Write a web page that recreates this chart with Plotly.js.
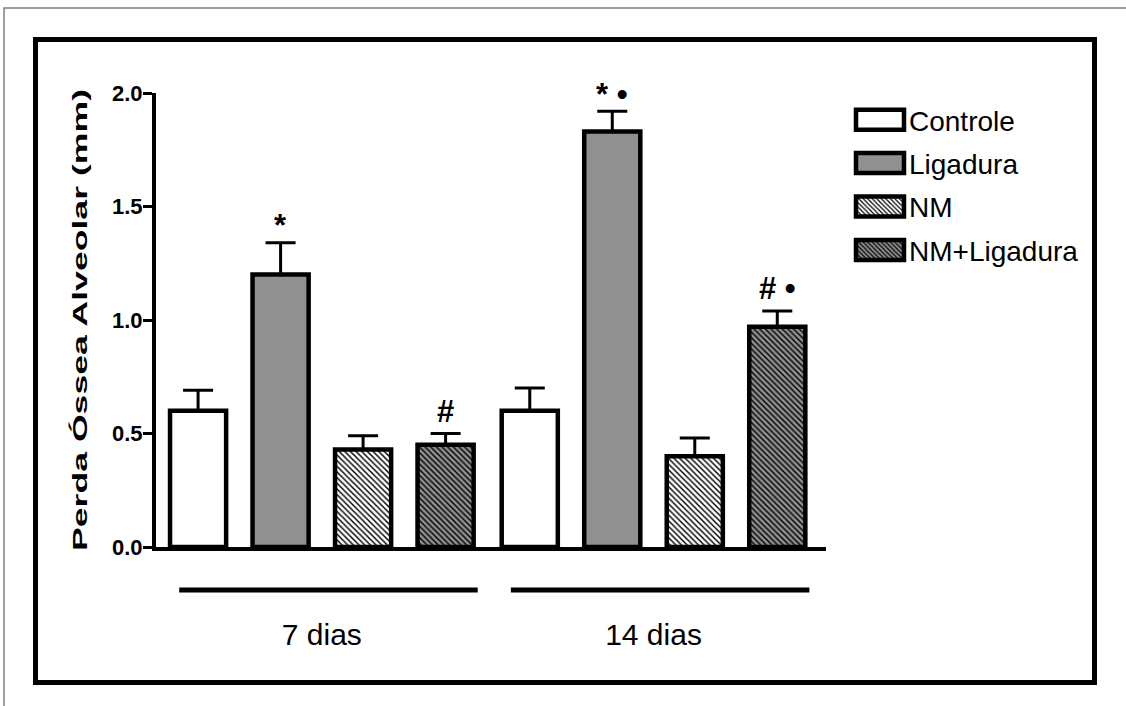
<!DOCTYPE html>
<html>
<head>
<meta charset="utf-8">
<script src="https://cdn.plot.ly/plotly-3.0.1.min.js"></script>
<style>
  html, body { margin: 0; padding: 0; background: #ffffff; }
  #chart { width: 1126px; height: 706px; }
</style>
</head>
<body>
<div id="chart"></div>
<script>
// ---- data ----
const categories = ['7 dias', '14 dias'];
const seriesNames = ['Controle', 'Ligadura', 'NM', 'NM+Ligadura'];

const controle       = [0.60, 0.60];
const controleErr    = [0.09, 0.10];
const ligadura       = [1.20, 1.83];
const ligaduraErr    = [0.14, 0.09];
const nm             = [0.43, 0.40];
const nmErr          = [0.06, 0.08];
const nmLigadura     = [0.45, 0.97];
const nmLigaduraErr  = [0.05, 0.07];

const sigControle    = ['', ''];
const sigLigadura    = ['*', '* \u2022'];
const sigNM          = ['', ''];
const sigNMLigadura  = ['#', '# \u2022'];

const yTickVals = [0.0, 0.5, 1.0, 1.5, 2.0];
const yTitle = 'Perda \u00d3ssea Alveolar (mm)';

// ---- styling ----
const FONT = 'Arial, "Liberation Sans", sans-serif';
const GRAY = '#909090';
const BARGAP = 0.005;
const BARGROUPGAP = 0.32;

const M = {l: 156, r: 300, t: 93, b: 159};
const W = 1126, H = 706;
const PW = W - M.l - M.r, PH = H - M.t - M.b;
const px = x => (x - M.l) / PW;
const py = y => (H - M.b - y) / PH;

const values = [controle, ligadura, nm, nmLigadura];
const errs = [controleErr, ligaduraErr, nmErr, nmLigaduraErr];
const sigs = [sigControle, sigLigadura, sigNM, sigNMLigadura];
const styles = [
  {color: '#ffffff'},
  {color: GRAY},
  {color: '#ffffff', pattern: {shape: '\\', bgcolor: '#ffffff', fgcolor: '#000000', size: 4, solidity: 0.36}},
  {color: GRAY, pattern: {shape: '\\', bgcolor: GRAY, fgcolor: '#000000', size: 4, solidity: 0.36}}
];

const traces = seriesNames.map((name, si) => {
  const marker = {color: styles[si].color, line: {color: '#000000', width: 4.5}};
  if (styles[si].pattern) marker.pattern = styles[si].pattern;
  return {
    type: 'bar',
    name: name,
    legendgroup: name,
    x: categories,
    y: values[si],
    marker: marker,
    cliponaxis: false,
    error_y: {
      type: 'data', symmetric: false,
      array: errs[si], arrayminus: values[si].map(() => 0),
      color: '#000000', thickness: 3, width: 15
    },
    hoverinfo: 'skip'
  };
});

// significance annotations (vertical offset depends on the glyph)
const glyphShift = {'*': 17, '#': 22};
const slot = (1 - BARGAP) / seriesNames.length;
const annotations = [];
seriesNames.forEach((name, si) => {
  categories.forEach((c, gi) => {
    const t = sigs[si][gi];
    if (!t) return;
    annotations.push({
      xref: 'x', yref: 'y',
      x: gi + (si - (seriesNames.length - 1) / 2) * slot,
      y: values[si][gi] + errs[si][gi],
      text: t, showarrow: false, yanchor: 'middle',
      yshift: glyphShift[t.charAt(0)] || 20,
      font: {family: FONT, size: 31, color: '#000000', weight: 'bold'}
    });
  });
});

// group underlines
const shapes = [];
categories.forEach((c, gi) => {
  shapes.push({
    type: 'line', xref: 'x', yref: 'paper',
    x0: gi - 0.43, x1: gi + 0.47, y0: py(590), y1: py(590),
    line: {color: '#000000', width: 5}
  });
});
// figure frames
shapes.push({type: 'rect', xref: 'paper', yref: 'paper', x0: px(4), x1: px(1140), y0: py(8), y1: py(720),
  line: {color: '#808080', width: 1.5}, layer: 'below'});
shapes.push({type: 'rect', xref: 'paper', yref: 'paper', x0: px(35.5), x1: px(1094.5), y0: py(39.5), y1: py(682.5),
  line: {color: '#000000', width: 5}, layer: 'below'});

const layout = {
  width: W, height: H,
  margin: M,
  paper_bgcolor: '#ffffff', plot_bgcolor: '#ffffff',
  font: {family: FONT, color: '#000000'},
  barmode: 'group', bargap: BARGAP, bargroupgap: BARGROUPGAP,
  showlegend: true,
  legend: {
    x: px(839), y: py(95), xanchor: 'left', yanchor: 'top',
    font: {family: FONT, size: 28, color: '#000000'},
    bgcolor: 'rgba(0,0,0,0)', borderwidth: 0,
    itemwidth: 60, tracegroupgap: 4, traceorder: 'grouped',
    itemclick: false, itemdoubleclick: false
  },
  xaxis: {
    type: 'category', range: [-0.5, 1.52],
    showline: true, linecolor: '#000000', linewidth: 4,
    ticks: '', showgrid: false, zeroline: false,
    ticklabelstandoff: 58,
    tickfont: {family: FONT, size: 30, color: '#000000'}
  },
  yaxis: {
    range: [0, 2.0], autorange: false,
    tickvals: yTickVals, tickformat: '.1f',
    showline: true, linecolor: '#000000', linewidth: 4,
    ticks: 'outside', ticklen: 9, tickwidth: 3, tickcolor: '#000000',
    ticklabelstandoff: -4,
    showgrid: false, zeroline: false,
    tickfont: {family: FONT, size: 22, color: '#000000', weight: 'bold'},
    title: {text: yTitle, standoff: 20, font: {family: FONT, size: 21, color: '#000000', weight: 'bold'}}
  },
  annotations: annotations,
  shapes: shapes
};

Plotly.newPlot('chart', traces, layout, {staticPlot: true, displayModeBar: false}).then(gd => {
  // enlarge legend swatches to the wide boxed style of the reference
  gd.querySelectorAll('.legend g.traces').forEach(g => {
    const txt = g.querySelector('text.legendtext');
    const tx = txt ? parseFloat(txt.getAttribute('x')) || 40 : 40;
    g.querySelectorAll('.legendpoints path').forEach(p => {
      const d = p.getAttribute('d');
      if (!d) return;
      p.setAttribute('d', 'M24,10H-24V-10H24Z');
      p.setAttribute('transform', 'translate(' + (tx - 29) + ',0)');
      p.style.strokeWidth = '4.5px';
    });
  });
  // the reference's axis title is drawn vertically stretched along its length
  const yt = gd.querySelector('.g-ytitle text');
  if (yt) {
    yt.setAttribute('textLength', '462');
    yt.setAttribute('lengthAdjust', 'spacingAndGlyphs');
  }
});
</script>
</body>
</html>
